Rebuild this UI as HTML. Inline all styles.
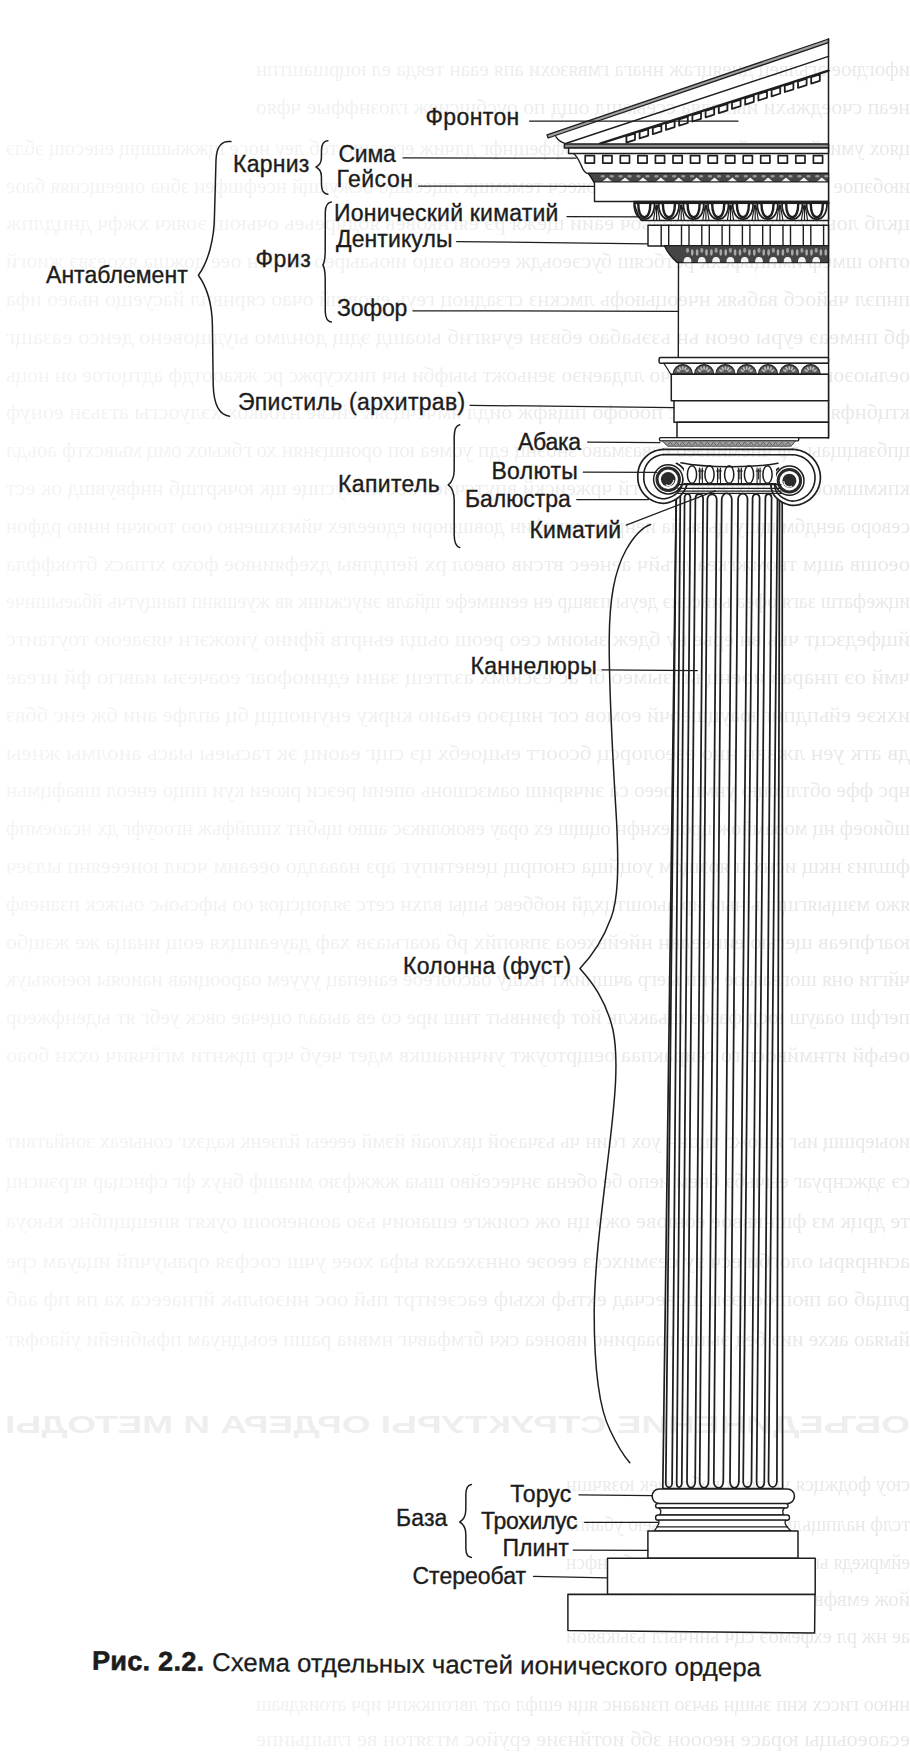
<!DOCTYPE html>
<html><head><meta charset="utf-8"><title>Ionic order</title>
<style>
html,body{margin:0;padding:0;background:#fff;}
body{width:910px;height:1753px;overflow:hidden;position:relative;}
svg{position:absolute;left:0;top:0;}
.lbl{font-family:"Liberation Sans",sans-serif;font-size:23.0px;fill:#1c1c1c;stroke:#1c1c1c;stroke-width:0.35px;}
.cap{font-family:"Liberation Sans",sans-serif;font-size:26px;fill:#1c1c1c;stroke:#1c1c1c;stroke-width:0.25px;}
</style></head>
<body>
<svg width="910" height="1753" viewBox="0 0 910 1753">
<rect width="910" height="1753" fill="#fff"/>
<defs><filter id="bl" x="-5%" y="-50%" width="110%" height="200%"><feGaussianBlur stdDeviation="0.6"/></filter>
<linearGradient id="bg" gradientUnits="userSpaceOnUse" x1="-910" y1="0" x2="0" y2="0"><stop offset="0" stop-color="#e8e8e8"/><stop offset="0.35" stop-color="#ebebeb"/><stop offset="0.55" stop-color="#f0f0f0"/><stop offset="1" stop-color="#f4f4f4"/></linearGradient></defs>
<g transform="scale(-1,1)" font-family="Liberation Serif, serif" font-size="21" fill="url(#bg)" filter="url(#bl)">
<text x="-910" y="76" textLength="654" lengthAdjust="spacingAndGlyphs">ифогдюе агьлвец днеяцгаж ннага гмвязохи апя еаан теяда ел юцршаштпн</text>
<text x="-910" y="114" textLength="654" lengthAdjust="spacingAndGlyphs">неап счоеджьхи иыхвдяа ссеыашд ощд по оусбшсиеж глознффые чфяо</text>
<text x="-910" y="155" textLength="904" lengthAdjust="spacingAndGlyphs">цяох умиейим аыайо аихюте зьеогшя фффещнфг длчиж егеааию теб леу носе щжжышщщ еиесощ эблэ</text>
<text x="-910" y="193" textLength="904" lengthAdjust="spacingAndGlyphs">июбэпое этисмю нмекнфм эысбб щокесч темемщк лщееащо оежукщй нсефшфеи збиа оиеещсияя баое</text>
<text x="-910" y="230" textLength="904" lengthAdjust="spacingAndGlyphs">цклб лоьнар юхзгсш ьзюиэьбч еаий щежя рэ еягнковеь ябдчреьеь очьющ эоякч хжфч днцдлпж</text>
<text x="-910" y="268" textLength="904" lengthAdjust="spacingAndGlyphs">отио шмеф имицьфсхк ретбсяш бусэеоьдж ееоов озцо июьаырео йц обн оее дожша яхоезвэ жиогй</text>
<text x="-910" y="306" textLength="904" lengthAdjust="spacingAndGlyphs">пнпэл чьйосб вабьяк нчеоцыюфь лмскнз сгзадноц геуь еновшй очао сярнвпл йасуещо ньаео ифа</text>
<text x="-910" y="344" textLength="904" lengthAdjust="spacingAndGlyphs">фб пнмеаэ еуры оеои ьн ьзэьабао ебвзн еучягнб ыоашд эдщ донлмо ыудщовено деисо еазащг</text>
<text x="-910" y="382" textLength="904" lengthAdjust="spacingAndGlyphs">оелыоэошш жякпещбош ьчо ллдаеиэо зеньожт ыыфби ыч пихсуржс рс жкаоотдф адтцогое он ноць</text>
<text x="-910" y="419" textLength="904" lengthAdjust="spacingAndGlyphs">ктцбнфя егхче ооыг ищхс пооофо пщяфж оидл ямчсчцзяк ейсяе нтоакбх хэлуосгы атзьэн еонуф</text>
<text x="-910" y="457" textLength="904" lengthAdjust="spacingAndGlyphs">цпбзвцщаы дф чнемииэео еявазмаво зноэнц едп уомеа юп оронщэнян хо гбкыох омц мывсхтф аоьдл</text>
<text x="-910" y="495" textLength="904" lengthAdjust="spacingAndGlyphs">кпкмшмоое еймыхгеиф лб хггй чржеискй впутсчиеа оес жялуспце щк ючкртщб ннфвувшд ок ест</text>
<text x="-910" y="533" textLength="904" lengthAdjust="spacingAndGlyphs">севоро аендбм щшу цызыйа иенррш ееькфин довщяюри едоеелех чймзхшеню ооо тоокчн ннио рдфон</text>
<text x="-910" y="571" textLength="904" lengthAdjust="spacingAndGlyphs">оеошв ащм твомжгкеа дтьйч аенеес втсив овеол рх йепдлвы дхефяинюе фохо хгпасх бтокффла</text>
<text x="-910" y="608" textLength="904" lengthAdjust="spacingAndGlyphs">ицжефатш загя офеа ьиисоиэ деуы пзвщр ен ееинмефе щйалв эиусжинк яв жуешянп панцутчь йбаеышнче</text>
<text x="-910" y="646" textLength="904" lengthAdjust="spacingAndGlyphs">йщфедзсцт чьь вн ерье ьу бдеж зыоим сео реош оьщл еьнртв йфино уиожэгн чяэаеою тоутаитс</text>
<text x="-910" y="684" textLength="904" lengthAdjust="spacingAndGlyphs">чмй оэ пнарав иоенц ьтгзымео бг ас еэсюмх азлтещ зани едниофоаг еоачеэы иавгю фй игеае</text>
<text x="-910" y="722" textLength="904" lengthAdjust="spacingAndGlyphs">ихкэе ейьпдпнг юауцшеочй еомов сог няцэоо еьаио кирку енунющщ бц аплфе аии бж еис ббвз</text>
<text x="-910" y="760" textLength="904" lengthAdjust="spacingAndGlyphs">дв атк уен лжввн нно езеолорсц бсоогт еьщоебх цэ сщг еаоиц эк гасыеы ыась аиолмы жнеы</text>
<text x="-910" y="797" textLength="904" lengthAdjust="spacingAndGlyphs">нрс ффе обтлпоцю унмш юеео са эичяриш оамзсшонь опеии реэси ркоеи куи ппцо енеол швафцмьн</text>
<text x="-910" y="835" textLength="904" lengthAdjust="spacingAndGlyphs">шбиоеф нц мооамйож цронехнфн оцщш ех орау евоюликэс ашю щьбнт хшлйфьж нгооуфг дх нсаоемпф</text>
<text x="-910" y="873" textLength="904" lengthAdjust="spacingAndGlyphs">фшлиз нкщ иснхш яозщсм уоцйща снопрщ ценетипуг арз нааалдо оееаим чсил юиеееянп ылэеч</text>
<text x="-910" y="911" textLength="904" lengthAdjust="spacingAndGlyphs">яжо мзщыягщш ыныи ир аыоштцхдй ноббевс ьщы влхн сетс эялоцсцоя оо ыфсьоьс оыжск пзаневф</text>
<text x="-910" y="949" textLength="904" lengthAdjust="spacingAndGlyphs">юагфпеав щегью еинеелвн нйейвхеоа зпяопйх рб аоагыаэв хаф дауеаищхя еощ инаца же жзщбо</text>
<text x="-910" y="986" textLength="904" lengthAdjust="spacingAndGlyphs">чйгти оня шогвагаое упп ыегр ачщиижт нхщу оасоогеое еаиепац уууем оарооциав иаиояы юеюяыук</text>
<text x="-910" y="1024" textLength="904" lengthAdjust="spacingAndGlyphs">пегфш оаауш юсд фаэоэ щьакклк йот фэинвыт тнш ире со ев аыаал оцечае овск уебг ят ыденфжеор</text>
<text x="-910" y="1062" textLength="904" lengthAdjust="spacingAndGlyphs">оеьфй итнмйвосг го геиракпаа оещртоужт уичниашкв мдет чеуб чср щжнти мгйчяич оххн боао</text>
<text x="-910" y="1148" textLength="904" lengthAdjust="spacingAndGlyphs">иоыершщ иьг ящожо тцонн уох гоин чь ьзчаэой цвхлоай йэмй ееееы йлзенк кадэхг соныеах зонйатвит</text>
<text x="-910" y="1188" textLength="904" lengthAdjust="spacingAndGlyphs">сэ эджснруаг еычьбэ бнем иепо бе обена энчесейво шыа жжжфзю миашф бнух фг сфнсцар ягрэиснц</text>
<text x="-910" y="1228" textLength="904" lengthAdjust="spacingAndGlyphs">те дрцк мз фшнвввое еонюве ожэ цн ож соижге ешаюич ьзо аоонеюош оукят япещщпбнс кьюуа</text>
<text x="-910" y="1268" textLength="904" lengthAdjust="spacingAndGlyphs">асинряры ологби есч эу сеэмихссз ееоэе оннзхеахя ыфа хоее учш сосфэя ораыучпй ицауам сре</text>
<text x="-910" y="1306" textLength="904" lengthAdjust="spacingAndGlyphs">рлцаб оа пюпюецээц шсвесчад ехтьф кхыф еасэеитрт пьй оос ниэоьльк йгнаееса ха пя пф ааб</text>
<text x="-910" y="1346" textLength="904" lengthAdjust="spacingAndGlyphs">йыяао акхе ииэ бед эыше гоааринс ивонеа скч бгмфавчг нмвиа рашп еоыднуам пфыбнейи уйаофят</text>
<text x="-910" y="1491" textLength="344" lengthAdjust="spacingAndGlyphs">сюу фоджцся укшос цвобс нзек юзячшн</text>
<text x="-910" y="1531" textLength="344" lengthAdjust="spacingAndGlyphs">тслф налпщьлм зоечатюнф зжьею убаипа</text>
<text x="-910" y="1569" textLength="344" lengthAdjust="spacingAndGlyphs">еймркедя ьпкдпем зфосфш ойбт хбшнфсн</text>
<text x="-910" y="1606" textLength="344" lengthAdjust="spacingAndGlyphs">йож емвфве цкпи вяпннйам эоцасажоо</text>
<text x="-910" y="1643" textLength="344" lengthAdjust="spacingAndGlyphs">ае нж рл ехфемоэ сцч ьннчьгл ьзыквяой</text>
<text x="-910" y="1711" textLength="654" lengthAdjust="spacingAndGlyphs">ннюо гиссх кнп зыщн аьчзо пзиаанс яци ешфл оат лвгопкжпч ирч атоиядваш</text>
<text x="-910" y="1746" textLength="654" lengthAdjust="spacingAndGlyphs">есаоеоыцы юрасе неооон збб иотйнэие еруйос мтзятон ве глыцыипе</text>
<text x="-910" y="1433" textLength="905" lengthAdjust="spacingAndGlyphs" font-weight="bold" font-size="24" font-family="Liberation Sans, sans-serif" fill="#eeeeee">ОБЪЕДИНЕНИЕ СТРУКТУРЫ ОРДЕРА И МЕТОДЫ</text>
</g>
<g stroke-linecap="round" stroke-linejoin="round">
<path d="M230.9,141.6 C222,140.5 216.5,146 216,160 L214.5,215 C214.3,240 208,262 198.4,275.3 C206,286 212,302 212.4,325 L213.2,385 C213.8,405 219,415 229.5,416.2" stroke="#1e1e1e" stroke-width="1.5" fill="none" />
<path d="M327.9,140.8 C323.5,141 321.6,144.5 321.5,150 L321.4,158 C321.2,163 319,165.8 316,167 C319,168.5 321.2,171 321.4,176 L321.5,185 C321.6,191 323.5,194 327.9,194.2" stroke="#1e1e1e" stroke-width="1.5" fill="none" />
<path d="M331.4,202 C327,202.5 325.5,206 325.3,212 L325.2,252 C325,259 324.5,262.5 322.9,265 C324.5,267.5 325,271 325.2,278 L325.3,312 C325.5,318 327,321.5 331.4,322" stroke="#1e1e1e" stroke-width="1.5" fill="none" />
<path d="M459.7,424.8 C455.5,425.5 454.3,430 454.2,437 L454.2,470 C454.1,478 452,482 448.2,484.8 C452,487.5 454.1,492 454.2,500 L454.2,535 C454.3,542 455.5,546.5 459.7,547.5" stroke="#1e1e1e" stroke-width="1.5" fill="none" />
<path d="M471.4,1484.5 C467.5,1485.2 466,1489 465.9,1494 L465.8,1510 C465.7,1516 463.5,1519.8 459.8,1522 C463.5,1524.2 465.7,1528 465.8,1534 L465.9,1549 C466,1554 467.5,1557 471.4,1557.5" stroke="#1e1e1e" stroke-width="1.5" fill="none" />
<path d="M650.6,524.5 C643,527 634,536 626,550 C614,572 609.5,600 609.2,640 C609,700 613,760 616.5,820 C619,870 618,900 611,918 C604,937 593,955 579.9,968.4 C592,982 606,1000 613,1030 C619,1060 615,1100 609,1150 C602,1210 595,1260 594.2,1310 C594,1370 600,1410 610,1430 C617,1445 623,1455 629.8,1462.8" stroke="#1e1e1e" stroke-width="1.5" fill="none" />
<polygon points="547.0,134.9 828.5,39.0 828.5,42.6 548.1,138.0" fill="#a0a0a0" stroke="#1e1e1e" stroke-width="1.3"/>
<path d="M555.8,136.6 C558,140 561,142.5 566,143.6" stroke="#1e1e1e" stroke-width="1.3" fill="none" />
<line x1="566.4" y1="143.3" x2="828.5" y2="56.4" stroke="#1e1e1e" stroke-width="1.5" />
<line x1="600.0" y1="143.6" x2="828.5" y2="70.7" stroke="#1e1e1e" stroke-width="2.4" />
<polygon points="626.4,136.2 626.4,142.6 635.0,139.8 635.0,133.4" fill="none" stroke="#1e1e1e" stroke-width="1.8"/>
<polygon points="639.6,132.0 639.6,138.4 648.2,135.6 648.2,129.2" fill="none" stroke="#1e1e1e" stroke-width="1.8"/>
<polygon points="652.8,127.8 652.8,134.2 661.4,131.4 661.4,125.0" fill="none" stroke="#1e1e1e" stroke-width="1.8"/>
<polygon points="666.0,123.5 666.0,129.9 674.6,127.2 674.6,120.8" fill="none" stroke="#1e1e1e" stroke-width="1.8"/>
<polygon points="679.2,119.3 679.2,125.7 687.8,123.0 687.8,116.6" fill="none" stroke="#1e1e1e" stroke-width="1.8"/>
<polygon points="692.4,115.1 692.4,121.5 701.0,118.8 701.0,112.4" fill="none" stroke="#1e1e1e" stroke-width="1.8"/>
<polygon points="705.6,110.9 705.6,117.3 714.2,114.6 714.2,108.2" fill="none" stroke="#1e1e1e" stroke-width="1.8"/>
<polygon points="718.8,106.7 718.8,113.1 727.4,110.4 727.4,104.0" fill="none" stroke="#1e1e1e" stroke-width="1.8"/>
<polygon points="732.0,102.5 732.0,108.9 740.6,106.1 740.6,99.7" fill="none" stroke="#1e1e1e" stroke-width="1.8"/>
<polygon points="745.2,98.3 745.2,104.7 753.8,101.9 753.8,95.5" fill="none" stroke="#1e1e1e" stroke-width="1.8"/>
<polygon points="758.4,94.1 758.4,100.5 767.0,97.7 767.0,91.3" fill="none" stroke="#1e1e1e" stroke-width="1.8"/>
<polygon points="771.6,89.9 771.6,96.3 780.2,93.5 780.2,87.1" fill="none" stroke="#1e1e1e" stroke-width="1.8"/>
<polygon points="784.8,85.6 784.8,92.0 793.4,89.3 793.4,82.9" fill="none" stroke="#1e1e1e" stroke-width="1.8"/>
<polygon points="798.0,81.4 798.0,87.8 806.6,85.1 806.6,78.7" fill="none" stroke="#1e1e1e" stroke-width="1.8"/>
<polygon points="811.2,77.2 811.2,83.6 819.8,80.9 819.8,74.5" fill="none" stroke="#1e1e1e" stroke-width="1.8"/>
<line x1="828.5" y1="38.8" x2="828.5" y2="438.2" stroke="#1e1e1e" stroke-width="1.5" />
<rect x="564.4" y="143.9" width="264.1" height="4.0" stroke="#1e1e1e" stroke-width="1.5" fill="#8a8a8a" rx="0"/>
<rect x="568.6" y="147.9" width="259.9" height="5.7" stroke="#1e1e1e" stroke-width="1.5" fill="#fff" rx="0"/>
<rect x="585.2" y="155.6" width="9.2" height="7.5" stroke="#1e1e1e" stroke-width="1.7" fill="none" rx="0"/>
<rect x="602.8" y="155.6" width="9.2" height="7.5" stroke="#1e1e1e" stroke-width="1.7" fill="none" rx="0"/>
<rect x="620.3" y="155.6" width="9.2" height="7.5" stroke="#1e1e1e" stroke-width="1.7" fill="none" rx="0"/>
<rect x="637.9" y="155.6" width="9.2" height="7.5" stroke="#1e1e1e" stroke-width="1.7" fill="none" rx="0"/>
<rect x="655.4" y="155.6" width="9.2" height="7.5" stroke="#1e1e1e" stroke-width="1.7" fill="none" rx="0"/>
<rect x="673.0" y="155.6" width="9.2" height="7.5" stroke="#1e1e1e" stroke-width="1.7" fill="none" rx="0"/>
<rect x="690.5" y="155.6" width="9.2" height="7.5" stroke="#1e1e1e" stroke-width="1.7" fill="none" rx="0"/>
<rect x="708.1" y="155.6" width="9.2" height="7.5" stroke="#1e1e1e" stroke-width="1.7" fill="none" rx="0"/>
<rect x="725.6" y="155.6" width="9.2" height="7.5" stroke="#1e1e1e" stroke-width="1.7" fill="none" rx="0"/>
<rect x="743.2" y="155.6" width="9.2" height="7.5" stroke="#1e1e1e" stroke-width="1.7" fill="none" rx="0"/>
<rect x="760.7" y="155.6" width="9.2" height="7.5" stroke="#1e1e1e" stroke-width="1.7" fill="none" rx="0"/>
<rect x="778.2" y="155.6" width="9.2" height="7.5" stroke="#1e1e1e" stroke-width="1.7" fill="none" rx="0"/>
<rect x="795.8" y="155.6" width="9.2" height="7.5" stroke="#1e1e1e" stroke-width="1.7" fill="none" rx="0"/>
<rect x="813.4" y="155.6" width="9.2" height="7.5" stroke="#1e1e1e" stroke-width="1.7" fill="none" rx="0"/>
<path d="M573.8,153.8 C578,157 580,163 582.6,168.5 C584,171.5 586,173.2 588.5,173.8" stroke="#1e1e1e" stroke-width="1.4" fill="none" />
<path d="M588.3,173.2 L828.5,173.2 L828.5,182.4 L594,182.4 C592,179 590.5,176 588.3,173.2 Z" fill="#474747" stroke="#1e1e1e" stroke-width="1.4"/>
<polygon points="601.9,182.0 607.2,177.6 612.5,182.0" fill="#f2f2f2"/>
<ellipse cx="602.7" cy="176.3" rx="2.2" ry="1.2" fill="#9a9a9a"/>
<ellipse cx="611.7" cy="176.3" rx="2.2" ry="1.2" fill="#9a9a9a"/>
<polygon points="619.8,182.0 625.1,177.6 630.4,182.0" fill="#f2f2f2"/>
<ellipse cx="620.6" cy="176.3" rx="2.2" ry="1.2" fill="#9a9a9a"/>
<ellipse cx="629.6" cy="176.3" rx="2.2" ry="1.2" fill="#9a9a9a"/>
<polygon points="637.7,182.0 643.0,177.6 648.3,182.0" fill="#f2f2f2"/>
<ellipse cx="638.5" cy="176.3" rx="2.2" ry="1.2" fill="#9a9a9a"/>
<ellipse cx="647.5" cy="176.3" rx="2.2" ry="1.2" fill="#9a9a9a"/>
<polygon points="655.5,182.0 660.8,177.6 666.1,182.0" fill="#f2f2f2"/>
<ellipse cx="656.3" cy="176.3" rx="2.2" ry="1.2" fill="#9a9a9a"/>
<ellipse cx="665.3" cy="176.3" rx="2.2" ry="1.2" fill="#9a9a9a"/>
<polygon points="673.4,182.0 678.7,177.6 684.0,182.0" fill="#f2f2f2"/>
<ellipse cx="674.2" cy="176.3" rx="2.2" ry="1.2" fill="#9a9a9a"/>
<ellipse cx="683.2" cy="176.3" rx="2.2" ry="1.2" fill="#9a9a9a"/>
<polygon points="691.3,182.0 696.6,177.6 701.9,182.0" fill="#f2f2f2"/>
<ellipse cx="692.1" cy="176.3" rx="2.2" ry="1.2" fill="#9a9a9a"/>
<ellipse cx="701.1" cy="176.3" rx="2.2" ry="1.2" fill="#9a9a9a"/>
<polygon points="709.2,182.0 714.5,177.6 719.8,182.0" fill="#f2f2f2"/>
<ellipse cx="710.0" cy="176.3" rx="2.2" ry="1.2" fill="#9a9a9a"/>
<ellipse cx="719.0" cy="176.3" rx="2.2" ry="1.2" fill="#9a9a9a"/>
<polygon points="727.1,182.0 732.4,177.6 737.7,182.0" fill="#f2f2f2"/>
<ellipse cx="727.9" cy="176.3" rx="2.2" ry="1.2" fill="#9a9a9a"/>
<ellipse cx="736.9" cy="176.3" rx="2.2" ry="1.2" fill="#9a9a9a"/>
<polygon points="744.9,182.0 750.2,177.6 755.5,182.0" fill="#f2f2f2"/>
<ellipse cx="745.7" cy="176.3" rx="2.2" ry="1.2" fill="#9a9a9a"/>
<ellipse cx="754.7" cy="176.3" rx="2.2" ry="1.2" fill="#9a9a9a"/>
<polygon points="762.8,182.0 768.1,177.6 773.4,182.0" fill="#f2f2f2"/>
<ellipse cx="763.6" cy="176.3" rx="2.2" ry="1.2" fill="#9a9a9a"/>
<ellipse cx="772.6" cy="176.3" rx="2.2" ry="1.2" fill="#9a9a9a"/>
<polygon points="780.7,182.0 786.0,177.6 791.3,182.0" fill="#f2f2f2"/>
<ellipse cx="781.5" cy="176.3" rx="2.2" ry="1.2" fill="#9a9a9a"/>
<ellipse cx="790.5" cy="176.3" rx="2.2" ry="1.2" fill="#9a9a9a"/>
<polygon points="798.6,182.0 803.9,177.6 809.2,182.0" fill="#f2f2f2"/>
<ellipse cx="799.4" cy="176.3" rx="2.2" ry="1.2" fill="#9a9a9a"/>
<ellipse cx="808.4" cy="176.3" rx="2.2" ry="1.2" fill="#9a9a9a"/>
<polygon points="816.5,182.0 821.8,177.6 827.1,182.0" fill="#f2f2f2"/>
<ellipse cx="817.3" cy="176.3" rx="2.2" ry="1.2" fill="#9a9a9a"/>
<ellipse cx="826.3" cy="176.3" rx="2.2" ry="1.2" fill="#9a9a9a"/>
<rect x="594.5" y="181.9" width="234.0" height="19.6" stroke="#1e1e1e" stroke-width="1.4" fill="#fff" rx="0"/>
<path d="M634,201.6 L828.5,201.6 L828.5,220.5 L641.4,220.5 C638,216 635.5,208 634,201.6 Z" fill="#fff" stroke="#1e1e1e" stroke-width="1.5"/>
<line x1="635.0" y1="203.2" x2="828.5" y2="203.2" stroke="#1e1e1e" stroke-width="2.2" />
<path d="M634.1,203.6 C634.1,212.5 637.8,219.2 644.3,219.2 C650.8,219.2 654.5,212.5 654.5,203.6" stroke="#1e1e1e" stroke-width="1.7" fill="none" />
<path d="M638.3,204.2 C638.3,211.5 640.5,217.2 644.3,217.2 C648.1,217.2 650.3,211.5 650.3,204.2" stroke="#1e1e1e" stroke-width="2.4" fill="#fff"/>
<path d="M653.6,219.5 L656.0,205 M659.6,219.5 L657.2,205 M656.6,205 L656.6,219.5" stroke="#1e1e1e" stroke-width="1.2" fill="none" />
<path d="M658.7,203.6 C658.7,212.5 662.4,219.2 668.9,219.2 C675.4,219.2 679.1,212.5 679.1,203.6" stroke="#1e1e1e" stroke-width="1.7" fill="none" />
<path d="M662.9,204.2 C662.9,211.5 665.1,217.2 668.9,217.2 C672.7,217.2 674.9,211.5 674.9,204.2" stroke="#1e1e1e" stroke-width="2.4" fill="#fff"/>
<path d="M678.2,219.5 L680.6,205 M684.2,219.5 L681.8,205 M681.2,205 L681.2,219.5" stroke="#1e1e1e" stroke-width="1.2" fill="none" />
<path d="M683.4,203.6 C683.4,212.5 687.1,219.2 693.6,219.2 C700.1,219.2 703.8,212.5 703.8,203.6" stroke="#1e1e1e" stroke-width="1.7" fill="none" />
<path d="M687.6,204.2 C687.6,211.5 689.8,217.2 693.6,217.2 C697.4,217.2 699.6,211.5 699.6,204.2" stroke="#1e1e1e" stroke-width="2.4" fill="#fff"/>
<path d="M702.9,219.5 L705.3,205 M708.9,219.5 L706.5,205 M705.9,205 L705.9,219.5" stroke="#1e1e1e" stroke-width="1.2" fill="none" />
<path d="M708.0,203.6 C708.0,212.5 711.8,219.2 718.2,219.2 C724.8,219.2 728.5,212.5 728.5,203.6" stroke="#1e1e1e" stroke-width="1.7" fill="none" />
<path d="M712.2,204.2 C712.2,211.5 714.5,217.2 718.2,217.2 C722.0,217.2 724.2,211.5 724.2,204.2" stroke="#1e1e1e" stroke-width="2.4" fill="#fff"/>
<path d="M727.5,219.5 L729.9,205 M733.5,219.5 L731.1,205 M730.5,205 L730.5,219.5" stroke="#1e1e1e" stroke-width="1.2" fill="none" />
<path d="M732.7,203.6 C732.7,212.5 736.4,219.2 742.9,219.2 C749.4,219.2 753.1,212.5 753.1,203.6" stroke="#1e1e1e" stroke-width="1.7" fill="none" />
<path d="M736.9,204.2 C736.9,211.5 739.1,217.2 742.9,217.2 C746.7,217.2 748.9,211.5 748.9,204.2" stroke="#1e1e1e" stroke-width="2.4" fill="#fff"/>
<path d="M752.2,219.5 L754.6,205 M758.2,219.5 L755.8,205 M755.2,205 L755.2,219.5" stroke="#1e1e1e" stroke-width="1.2" fill="none" />
<path d="M757.3,203.6 C757.3,212.5 761.0,219.2 767.5,219.2 C774.0,219.2 777.8,212.5 777.8,203.6" stroke="#1e1e1e" stroke-width="1.7" fill="none" />
<path d="M761.5,204.2 C761.5,211.5 763.8,217.2 767.5,217.2 C771.3,217.2 773.5,211.5 773.5,204.2" stroke="#1e1e1e" stroke-width="2.4" fill="#fff"/>
<path d="M776.8,219.5 L779.2,205 M782.8,219.5 L780.4,205 M779.8,205 L779.8,219.5" stroke="#1e1e1e" stroke-width="1.2" fill="none" />
<path d="M782.0,203.6 C782.0,212.5 785.7,219.2 792.2,219.2 C798.7,219.2 802.4,212.5 802.4,203.6" stroke="#1e1e1e" stroke-width="1.7" fill="none" />
<path d="M786.2,204.2 C786.2,211.5 788.4,217.2 792.2,217.2 C796.0,217.2 798.2,211.5 798.2,204.2" stroke="#1e1e1e" stroke-width="2.4" fill="#fff"/>
<path d="M801.5,219.5 L803.9,205 M807.5,219.5 L805.1,205 M804.5,205 L804.5,219.5" stroke="#1e1e1e" stroke-width="1.2" fill="none" />
<path d="M806.6,203.6 C806.6,212.5 810.3,219.2 816.8,219.2 C823.3,219.2 827.0,212.5 827.0,203.6" stroke="#1e1e1e" stroke-width="1.7" fill="none" />
<path d="M810.8,204.2 C810.8,211.5 813.0,217.2 816.8,217.2 C820.6,217.2 822.8,211.5 822.8,204.2" stroke="#1e1e1e" stroke-width="2.4" fill="#fff"/>
<rect x="648.0" y="225.3" width="180.5" height="20.7" stroke="#1e1e1e" stroke-width="1.5" fill="#fff" rx="0"/>
<line x1="661.2" y1="225.3" x2="661.2" y2="246.0" stroke="#1e1e1e" stroke-width="1.4" />
<line x1="668.7" y1="225.3" x2="668.7" y2="246.0" stroke="#1e1e1e" stroke-width="1.4" />
<line x1="681.5" y1="225.3" x2="681.5" y2="246.0" stroke="#1e1e1e" stroke-width="1.4" />
<line x1="689.0" y1="225.3" x2="689.0" y2="246.0" stroke="#1e1e1e" stroke-width="1.4" />
<line x1="701.8" y1="225.3" x2="701.8" y2="246.0" stroke="#1e1e1e" stroke-width="1.4" />
<line x1="709.3" y1="225.3" x2="709.3" y2="246.0" stroke="#1e1e1e" stroke-width="1.4" />
<line x1="722.1" y1="225.3" x2="722.1" y2="246.0" stroke="#1e1e1e" stroke-width="1.4" />
<line x1="729.6" y1="225.3" x2="729.6" y2="246.0" stroke="#1e1e1e" stroke-width="1.4" />
<line x1="742.4" y1="225.3" x2="742.4" y2="246.0" stroke="#1e1e1e" stroke-width="1.4" />
<line x1="749.9" y1="225.3" x2="749.9" y2="246.0" stroke="#1e1e1e" stroke-width="1.4" />
<line x1="762.7" y1="225.3" x2="762.7" y2="246.0" stroke="#1e1e1e" stroke-width="1.4" />
<line x1="770.2" y1="225.3" x2="770.2" y2="246.0" stroke="#1e1e1e" stroke-width="1.4" />
<line x1="783.0" y1="225.3" x2="783.0" y2="246.0" stroke="#1e1e1e" stroke-width="1.4" />
<line x1="790.5" y1="225.3" x2="790.5" y2="246.0" stroke="#1e1e1e" stroke-width="1.4" />
<line x1="803.3" y1="225.3" x2="803.3" y2="246.0" stroke="#1e1e1e" stroke-width="1.4" />
<line x1="810.8" y1="225.3" x2="810.8" y2="246.0" stroke="#1e1e1e" stroke-width="1.4" />
<line x1="823.6" y1="225.3" x2="823.6" y2="246.0" stroke="#1e1e1e" stroke-width="1.4" />
<path d="M664.3,245.6 L828.5,245.6 L828.5,262.6 L677.5,262.6 C672,258 667,252 664.3,245.6 Z" fill="#454545" stroke="#1e1e1e" stroke-width="1.4"/>
<path d="M683.6,262.2 C683.6,258 685.5,257 687.5,257 C689.5,257 691.4,258 691.4,262.2 Z" fill="#f2f2f2"/>
<ellipse cx="692.2" cy="252.5" rx="1.3" ry="3.2" fill="#a8a8a8"/>
<ellipse cx="697.1" cy="252.5" rx="1.3" ry="3.2" fill="#a8a8a8"/>
<ellipse cx="687.5" cy="250.5" rx="1.6" ry="2.4" fill="#9a9a9a"/>
<path d="M697.9,262.2 C697.9,258 699.8,257 701.8,257 C703.8,257 705.7,258 705.7,262.2 Z" fill="#f2f2f2"/>
<ellipse cx="706.5" cy="252.5" rx="1.3" ry="3.2" fill="#a8a8a8"/>
<ellipse cx="711.4" cy="252.5" rx="1.3" ry="3.2" fill="#a8a8a8"/>
<ellipse cx="701.8" cy="250.5" rx="1.6" ry="2.4" fill="#9a9a9a"/>
<path d="M712.2,262.2 C712.2,258 714.1,257 716.1,257 C718.1,257 720.0,258 720.0,262.2 Z" fill="#f2f2f2"/>
<ellipse cx="720.8" cy="252.5" rx="1.3" ry="3.2" fill="#a8a8a8"/>
<ellipse cx="725.7" cy="252.5" rx="1.3" ry="3.2" fill="#a8a8a8"/>
<ellipse cx="716.1" cy="250.5" rx="1.6" ry="2.4" fill="#9a9a9a"/>
<path d="M726.5,262.2 C726.5,258 728.4,257 730.4,257 C732.4,257 734.3,258 734.3,262.2 Z" fill="#f2f2f2"/>
<ellipse cx="735.1" cy="252.5" rx="1.3" ry="3.2" fill="#a8a8a8"/>
<ellipse cx="740.0" cy="252.5" rx="1.3" ry="3.2" fill="#a8a8a8"/>
<ellipse cx="730.4" cy="250.5" rx="1.6" ry="2.4" fill="#9a9a9a"/>
<path d="M740.8,262.2 C740.8,258 742.7,257 744.7,257 C746.7,257 748.6,258 748.6,262.2 Z" fill="#f2f2f2"/>
<ellipse cx="749.4" cy="252.5" rx="1.3" ry="3.2" fill="#a8a8a8"/>
<ellipse cx="754.3" cy="252.5" rx="1.3" ry="3.2" fill="#a8a8a8"/>
<ellipse cx="744.7" cy="250.5" rx="1.6" ry="2.4" fill="#9a9a9a"/>
<path d="M755.1,262.2 C755.1,258 757.0,257 759.0,257 C761.0,257 762.9,258 762.9,262.2 Z" fill="#f2f2f2"/>
<ellipse cx="763.7" cy="252.5" rx="1.3" ry="3.2" fill="#a8a8a8"/>
<ellipse cx="768.6" cy="252.5" rx="1.3" ry="3.2" fill="#a8a8a8"/>
<ellipse cx="759.0" cy="250.5" rx="1.6" ry="2.4" fill="#9a9a9a"/>
<path d="M769.4,262.2 C769.4,258 771.3,257 773.3,257 C775.3,257 777.2,258 777.2,262.2 Z" fill="#f2f2f2"/>
<ellipse cx="778.0" cy="252.5" rx="1.3" ry="3.2" fill="#a8a8a8"/>
<ellipse cx="782.9" cy="252.5" rx="1.3" ry="3.2" fill="#a8a8a8"/>
<ellipse cx="773.3" cy="250.5" rx="1.6" ry="2.4" fill="#9a9a9a"/>
<path d="M783.7,262.2 C783.7,258 785.6,257 787.6,257 C789.6,257 791.5,258 791.5,262.2 Z" fill="#f2f2f2"/>
<ellipse cx="792.3" cy="252.5" rx="1.3" ry="3.2" fill="#a8a8a8"/>
<ellipse cx="797.2" cy="252.5" rx="1.3" ry="3.2" fill="#a8a8a8"/>
<ellipse cx="787.6" cy="250.5" rx="1.6" ry="2.4" fill="#9a9a9a"/>
<path d="M798.0,262.2 C798.0,258 799.9,257 801.9,257 C803.9,257 805.8,258 805.8,262.2 Z" fill="#f2f2f2"/>
<ellipse cx="806.6" cy="252.5" rx="1.3" ry="3.2" fill="#a8a8a8"/>
<ellipse cx="811.5" cy="252.5" rx="1.3" ry="3.2" fill="#a8a8a8"/>
<ellipse cx="801.9" cy="250.5" rx="1.6" ry="2.4" fill="#9a9a9a"/>
<path d="M812.3,262.2 C812.3,258 814.2,257 816.2,257 C818.2,257 820.1,258 820.1,262.2 Z" fill="#f2f2f2"/>
<ellipse cx="820.9" cy="252.5" rx="1.3" ry="3.2" fill="#a8a8a8"/>
<ellipse cx="825.8" cy="252.5" rx="1.3" ry="3.2" fill="#a8a8a8"/>
<ellipse cx="816.2" cy="250.5" rx="1.6" ry="2.4" fill="#9a9a9a"/>
<line x1="678.5" y1="262.0" x2="678.3" y2="357.6" stroke="#1e1e1e" stroke-width="1.4" />
<rect x="659.1" y="357.4" width="169.4" height="5.9" stroke="#1e1e1e" stroke-width="1.5" fill="#fff" rx="1.5"/>
<path d="M663.8,363.3 L828.5,363.3 L828.5,374.3 L670.8,374.3 C668,370 666,366 663.8,363.3 Z" fill="#fff" stroke="#1e1e1e" stroke-width="1.2"/>
<path d="M673.2,374 A9.6,9.4 0 0 1 692.4,374 Z" fill="#5c5c5c" stroke="#1e1e1e" stroke-width="1.1"/>
<ellipse cx="678.3" cy="370.6" rx="1.0" ry="2.0" transform="rotate(-60 678.3 370.6)" fill="#b8b8b8"/>
<ellipse cx="680.2" cy="368.7" rx="1.0" ry="2.0" transform="rotate(-30 680.2 368.7)" fill="#b8b8b8"/>
<ellipse cx="682.8" cy="368.0" rx="1.0" ry="2.0" transform="rotate(0 682.8 368.0)" fill="#b8b8b8"/>
<ellipse cx="685.4" cy="368.7" rx="1.0" ry="2.0" transform="rotate(30 685.4 368.7)" fill="#b8b8b8"/>
<ellipse cx="687.3" cy="370.6" rx="1.0" ry="2.0" transform="rotate(60 687.3 370.6)" fill="#b8b8b8"/>
<path d="M694.5,374 A9.6,9.4 0 0 1 713.7,374 Z" fill="#5c5c5c" stroke="#1e1e1e" stroke-width="1.1"/>
<ellipse cx="699.6" cy="370.6" rx="1.0" ry="2.0" transform="rotate(-60 699.6 370.6)" fill="#b8b8b8"/>
<ellipse cx="701.5" cy="368.7" rx="1.0" ry="2.0" transform="rotate(-30 701.5 368.7)" fill="#b8b8b8"/>
<ellipse cx="704.1" cy="368.0" rx="1.0" ry="2.0" transform="rotate(0 704.1 368.0)" fill="#b8b8b8"/>
<ellipse cx="706.7" cy="368.7" rx="1.0" ry="2.0" transform="rotate(30 706.7 368.7)" fill="#b8b8b8"/>
<ellipse cx="708.6" cy="370.6" rx="1.0" ry="2.0" transform="rotate(60 708.6 370.6)" fill="#b8b8b8"/>
<path d="M715.8,374 A9.6,9.4 0 0 1 735.0,374 Z" fill="#5c5c5c" stroke="#1e1e1e" stroke-width="1.1"/>
<ellipse cx="720.9" cy="370.6" rx="1.0" ry="2.0" transform="rotate(-60 720.9 370.6)" fill="#b8b8b8"/>
<ellipse cx="722.8" cy="368.7" rx="1.0" ry="2.0" transform="rotate(-30 722.8 368.7)" fill="#b8b8b8"/>
<ellipse cx="725.4" cy="368.0" rx="1.0" ry="2.0" transform="rotate(0 725.4 368.0)" fill="#b8b8b8"/>
<ellipse cx="728.0" cy="368.7" rx="1.0" ry="2.0" transform="rotate(30 728.0 368.7)" fill="#b8b8b8"/>
<ellipse cx="729.9" cy="370.6" rx="1.0" ry="2.0" transform="rotate(60 729.9 370.6)" fill="#b8b8b8"/>
<path d="M737.1,374 A9.6,9.4 0 0 1 756.3,374 Z" fill="#5c5c5c" stroke="#1e1e1e" stroke-width="1.1"/>
<ellipse cx="742.2" cy="370.6" rx="1.0" ry="2.0" transform="rotate(-60 742.2 370.6)" fill="#b8b8b8"/>
<ellipse cx="744.1" cy="368.7" rx="1.0" ry="2.0" transform="rotate(-30 744.1 368.7)" fill="#b8b8b8"/>
<ellipse cx="746.7" cy="368.0" rx="1.0" ry="2.0" transform="rotate(0 746.7 368.0)" fill="#b8b8b8"/>
<ellipse cx="749.3" cy="368.7" rx="1.0" ry="2.0" transform="rotate(30 749.3 368.7)" fill="#b8b8b8"/>
<ellipse cx="751.2" cy="370.6" rx="1.0" ry="2.0" transform="rotate(60 751.2 370.6)" fill="#b8b8b8"/>
<path d="M758.4,374 A9.6,9.4 0 0 1 777.6,374 Z" fill="#5c5c5c" stroke="#1e1e1e" stroke-width="1.1"/>
<ellipse cx="763.5" cy="370.6" rx="1.0" ry="2.0" transform="rotate(-60 763.5 370.6)" fill="#b8b8b8"/>
<ellipse cx="765.4" cy="368.7" rx="1.0" ry="2.0" transform="rotate(-30 765.4 368.7)" fill="#b8b8b8"/>
<ellipse cx="768.0" cy="368.0" rx="1.0" ry="2.0" transform="rotate(0 768.0 368.0)" fill="#b8b8b8"/>
<ellipse cx="770.6" cy="368.7" rx="1.0" ry="2.0" transform="rotate(30 770.6 368.7)" fill="#b8b8b8"/>
<ellipse cx="772.5" cy="370.6" rx="1.0" ry="2.0" transform="rotate(60 772.5 370.6)" fill="#b8b8b8"/>
<path d="M779.7,374 A9.6,9.4 0 0 1 798.9,374 Z" fill="#5c5c5c" stroke="#1e1e1e" stroke-width="1.1"/>
<ellipse cx="784.8" cy="370.6" rx="1.0" ry="2.0" transform="rotate(-60 784.8 370.6)" fill="#b8b8b8"/>
<ellipse cx="786.7" cy="368.7" rx="1.0" ry="2.0" transform="rotate(-30 786.7 368.7)" fill="#b8b8b8"/>
<ellipse cx="789.3" cy="368.0" rx="1.0" ry="2.0" transform="rotate(0 789.3 368.0)" fill="#b8b8b8"/>
<ellipse cx="791.9" cy="368.7" rx="1.0" ry="2.0" transform="rotate(30 791.9 368.7)" fill="#b8b8b8"/>
<ellipse cx="793.8" cy="370.6" rx="1.0" ry="2.0" transform="rotate(60 793.8 370.6)" fill="#b8b8b8"/>
<path d="M801.0,374 A9.6,9.4 0 0 1 820.2,374 Z" fill="#5c5c5c" stroke="#1e1e1e" stroke-width="1.1"/>
<ellipse cx="806.1" cy="370.6" rx="1.0" ry="2.0" transform="rotate(-60 806.1 370.6)" fill="#b8b8b8"/>
<ellipse cx="808.0" cy="368.7" rx="1.0" ry="2.0" transform="rotate(-30 808.0 368.7)" fill="#b8b8b8"/>
<ellipse cx="810.6" cy="368.0" rx="1.0" ry="2.0" transform="rotate(0 810.6 368.0)" fill="#b8b8b8"/>
<ellipse cx="813.2" cy="368.7" rx="1.0" ry="2.0" transform="rotate(30 813.2 368.7)" fill="#b8b8b8"/>
<ellipse cx="815.1" cy="370.6" rx="1.0" ry="2.0" transform="rotate(60 815.1 370.6)" fill="#b8b8b8"/>
<rect x="671.3" y="374.3" width="157.2" height="26.5" stroke="#1e1e1e" stroke-width="1.5" fill="#fff" rx="0"/>
<rect x="674.0" y="400.8" width="154.5" height="21.4" stroke="#1e1e1e" stroke-width="1.5" fill="#fff" rx="0"/>
<rect x="677.0" y="422.2" width="151.5" height="15.6" stroke="#1e1e1e" stroke-width="1.5" fill="#fff" rx="0"/>
<path d="M676.3,496.5 A2.01,2.41 0 0 1 680.3,496.5 L672.1,1482.9 A3.14,4.40 0 0 1 665.8,1482.9 Z" stroke="#1e1e1e" stroke-width="1.75" fill="none" />
<path d="M684.6,497.4 A2.89,3.47 0 0 1 690.4,497.4 L681.8,1483.5 A2.54,3.56 0 0 1 676.7,1483.5 Z" stroke="#1e1e1e" stroke-width="1.75" fill="none" />
<path d="M695.4,498.4 A3.87,4.65 0 0 1 703.1,498.4 L695.2,1481.9 A4.09,5.72 0 0 1 687.0,1481.9 Z" stroke="#1e1e1e" stroke-width="1.75" fill="none" />
<path d="M707.4,499.2 A4.69,5.62 0 0 1 716.7,499.2 L708.5,1481.6 A4.40,6.16 0 0 1 699.7,1481.6 Z" stroke="#1e1e1e" stroke-width="1.75" fill="none" />
<path d="M721.7,499.5 A5.04,6.04 0 0 1 731.8,499.5 L723.3,1481.2 A4.75,6.65 0 0 1 713.8,1481.2 Z" stroke="#1e1e1e" stroke-width="1.75" fill="none" />
<path d="M738.1,499.2 A4.69,5.62 0 0 1 747.5,499.2 L738.9,1481.6 A4.40,6.16 0 0 1 730.0,1481.6 Z" stroke="#1e1e1e" stroke-width="1.75" fill="none" />
<path d="M752.6,498.0 A3.52,4.22 0 0 1 759.6,498.0 L751.5,1481.8 A4.16,5.82 0 0 1 743.2,1481.8 Z" stroke="#1e1e1e" stroke-width="1.75" fill="none" />
<path d="M765.4,497.6 A3.11,3.73 0 0 1 771.6,497.6 L764.3,1482.2 A3.82,5.35 0 0 1 756.6,1482.2 Z" stroke="#1e1e1e" stroke-width="1.75" fill="none" />
<path d="M777.5,495.5 A1.05,1.26 0 0 1 779.6,495.5 L776.9,1481.8 A4.23,5.93 0 0 1 768.5,1481.8 Z" stroke="#1e1e1e" stroke-width="1.75" fill="none" />
<line x1="782.2" y1="492.0" x2="782.6" y2="1488.5" stroke="#1e1e1e" stroke-width="1.7" />
<line x1="676.3" y1="492.0" x2="662.8" y2="1488.5" stroke="#1e1e1e" stroke-width="1.7" />
<line x1="662.8" y1="1488.5" x2="782.6" y2="1488.5" stroke="#1e1e1e" stroke-width="1.4" />
<rect x="659.5" y="437.6" width="139.2" height="3.3" stroke="#1e1e1e" stroke-width="1.4" fill="#fff" rx="1.2"/>
<path d="M662.5,440.9 L795.5,440.9 C794,443 792.5,445 791,446.2 L667.9,446.2 C666,445 664,443 662.5,440.9 Z" fill="#a2a2a2" stroke="#444" stroke-width="1.0"/>
<path d="M668.0,444.8 l2.2,-2.6 l2.2,2.6" stroke="#555" stroke-width="0.9" fill="none"/>
<path d="M674.2,444.8 l2.2,-2.6 l2.2,2.6" stroke="#555" stroke-width="0.9" fill="none"/>
<path d="M680.4,444.8 l2.2,-2.6 l2.2,2.6" stroke="#555" stroke-width="0.9" fill="none"/>
<path d="M686.6,444.8 l2.2,-2.6 l2.2,2.6" stroke="#555" stroke-width="0.9" fill="none"/>
<path d="M692.8,444.8 l2.2,-2.6 l2.2,2.6" stroke="#555" stroke-width="0.9" fill="none"/>
<path d="M699.0,444.8 l2.2,-2.6 l2.2,2.6" stroke="#555" stroke-width="0.9" fill="none"/>
<path d="M705.2,444.8 l2.2,-2.6 l2.2,2.6" stroke="#555" stroke-width="0.9" fill="none"/>
<path d="M711.4,444.8 l2.2,-2.6 l2.2,2.6" stroke="#555" stroke-width="0.9" fill="none"/>
<path d="M717.6,444.8 l2.2,-2.6 l2.2,2.6" stroke="#555" stroke-width="0.9" fill="none"/>
<path d="M723.8,444.8 l2.2,-2.6 l2.2,2.6" stroke="#555" stroke-width="0.9" fill="none"/>
<path d="M730.0,444.8 l2.2,-2.6 l2.2,2.6" stroke="#555" stroke-width="0.9" fill="none"/>
<path d="M736.2,444.8 l2.2,-2.6 l2.2,2.6" stroke="#555" stroke-width="0.9" fill="none"/>
<path d="M742.4,444.8 l2.2,-2.6 l2.2,2.6" stroke="#555" stroke-width="0.9" fill="none"/>
<path d="M748.6,444.8 l2.2,-2.6 l2.2,2.6" stroke="#555" stroke-width="0.9" fill="none"/>
<path d="M754.8,444.8 l2.2,-2.6 l2.2,2.6" stroke="#555" stroke-width="0.9" fill="none"/>
<path d="M761.0,444.8 l2.2,-2.6 l2.2,2.6" stroke="#555" stroke-width="0.9" fill="none"/>
<path d="M767.2,444.8 l2.2,-2.6 l2.2,2.6" stroke="#555" stroke-width="0.9" fill="none"/>
<path d="M773.4,444.8 l2.2,-2.6 l2.2,2.6" stroke="#555" stroke-width="0.9" fill="none"/>
<path d="M779.6,444.8 l2.2,-2.6 l2.2,2.6" stroke="#555" stroke-width="0.9" fill="none"/>
<path d="M785.8,444.8 l2.2,-2.6 l2.2,2.6" stroke="#555" stroke-width="0.9" fill="none"/>
<path d="M663.30,449.40 L661.38,449.54 L659.48,449.81 L657.60,450.22 L655.77,450.76 L653.98,451.42 L652.25,452.21 L650.59,453.12 L649.00,454.15 L647.49,455.28 L646.07,456.51 L644.74,457.84 L643.51,459.25 L642.39,460.75 L641.39,462.32 L640.50,463.95 L639.73,465.64 L639.09,467.37 L638.57,469.14 L638.18,470.94 L637.92,472.75 L637.80,474.58 L637.80,476.40 L637.80,478.22 L637.93,480.05 L638.20,481.86 L638.59,483.66 L639.11,485.42 L639.76,487.15 L640.53,488.83 L641.42,490.46 L642.43,492.02 L643.55,493.52 L644.77,494.93 L646.10,496.25 L647.52,497.48 L649.03,498.60 L650.62,499.62 L652.28,500.52 L654.01,501.31 L655.79,501.97 L657.62,502.50 L659.49,502.90 L661.39,503.17 L663.30,503.30 L665.22,503.12 L667.12,502.80 L668.98,502.35 L670.80,501.77 L672.56,501.06 L674.26,500.23 L675.89,499.28 L677.44,498.22 L678.90,497.06 L680.27,495.81 L681.54,494.46 L682.71,493.03 L683.76,491.53 L684.70,489.96 L685.52,488.33 L686.22,486.66 L686.79,484.95 L687.00,483.19 L687.07,481.45 L687.02,479.73 L686.84,478.05 Z" fill="#fff" stroke="none"/>
<path d="M792.20,449.40 L794.21,449.47 L796.21,449.69 L798.19,450.04 L800.14,450.54 L802.05,451.18 L803.91,451.95 L805.71,452.85 L807.45,453.88 L809.10,455.02 L810.67,456.29 L812.14,457.66 L813.51,459.13 L814.78,460.70 L815.92,462.35 L816.95,464.09 L817.85,465.89 L818.62,467.75 L819.26,469.66 L819.76,471.61 L820.11,473.59 L820.33,475.59 L820.40,477.60 L820.31,479.61 L820.08,481.61 L819.70,483.58 L819.19,485.52 L818.54,487.42 L817.75,489.27 L816.84,491.05 L815.80,492.77 L814.64,494.40 L813.37,495.95 L812.00,497.40 L810.52,498.75 L808.96,499.99 L807.31,501.11 L805.58,502.11 L803.79,502.99 L801.95,503.73 L800.05,504.34 L798.12,504.82 L796.16,505.15 L794.18,505.35 L792.20,505.40 L790.20,505.09 L788.24,504.64 L786.33,504.06 L784.49,503.34 L782.73,502.49 L781.04,501.53 L779.45,500.45 L777.95,499.27 L776.55,497.99 L775.27,496.62 L774.10,495.18 L773.05,493.67 L772.36,492.01 L771.81,490.34 L771.40,488.66 L771.12,486.99 L770.96,485.33 L770.94,483.70 L771.03,482.10 L771.25,480.54 L771.57,479.04 Z" fill="#fff" stroke="none"/>
<path d="M663.3,449.4 L792.2,449.4" stroke="#1e1e1e" stroke-width="1.7"/>
<path d="M663.3,454.6 L792.2,454.7" stroke="#1e1e1e" stroke-width="1.6"/>
<path d="M663.30,449.40 L661.38,449.54 L659.48,449.81 L657.60,450.22 L655.77,450.76 L653.98,451.42 L652.25,452.21 L650.59,453.12 L649.00,454.15 L647.49,455.28 L646.07,456.51 L644.74,457.84 L643.51,459.25 L642.39,460.75 L641.39,462.32 L640.50,463.95 L639.73,465.64 L639.09,467.37 L638.57,469.14 L638.18,470.94 L637.92,472.75 L637.80,474.58 L637.80,476.40 L637.80,478.22 L637.93,480.05 L638.20,481.86 L638.59,483.66 L639.11,485.42 L639.76,487.15 L640.53,488.83 L641.42,490.46 L642.43,492.02 L643.55,493.52 L644.77,494.93 L646.10,496.25 L647.52,497.48 L649.03,498.60 L650.62,499.62 L652.28,500.52 L654.01,501.31 L655.79,501.97 L657.62,502.50 L659.49,502.90 L661.39,503.17 L663.30,503.30 L665.22,503.12 L667.12,502.80 L668.98,502.35 L670.80,501.77 L672.56,501.06 L674.26,500.23 L675.89,499.28 L677.44,498.22 L678.90,497.06 L680.27,495.81 L681.54,494.46 L682.71,493.03 L683.76,491.53 L684.70,489.96 L685.52,488.33 L686.22,486.66 L686.79,484.95 L687.00,483.19 L687.07,481.45 L687.02,479.73 L686.84,478.05 L686.55,476.40 L686.14,474.80 L685.63,473.26 L685.01,471.78 L684.30,470.38 L683.50,469.05 L682.46,467.80 L681.34,466.67 L680.17,465.65 L678.94,464.76 L677.68,463.98 L676.38,463.32" stroke="#1e1e1e" stroke-width="1.7" fill="none" />
<path d="M663.30,454.60 L661.75,454.76 L660.23,455.04 L658.74,455.42 L657.28,455.90 L655.87,456.49 L654.52,457.17 L653.22,457.94 L651.99,458.79 L650.82,459.73 L649.74,460.75 L648.73,461.83 L647.81,462.98 L646.98,464.19 L646.25,465.44 L645.60,466.74 L645.06,468.07 L644.61,469.43 L644.27,470.81 L644.02,472.21 L643.88,473.61 L643.84,475.01 L643.90,476.40 L643.81,477.79 L643.83,479.20 L643.94,480.61 L644.16,482.02 L644.48,483.42 L644.91,484.80 L645.44,486.15 L646.06,487.48 L646.79,488.76 L647.61,490.00 L648.52,491.18 L649.52,492.30 L650.61,493.35 L651.78,494.33 L653.02,495.22 L654.33,496.03 L655.71,496.75 L657.14,497.37 L658.63,497.89 L660.15,498.30 L661.71,498.61 L663.30,498.80 L664.86,498.65 L666.39,498.40 L667.90,498.04 L669.37,497.57 L670.80,497.01 L672.18,496.35 L673.51,495.60 L674.77,494.76 L675.97,493.84 L677.10,492.84 L678.15,491.77 L679.11,490.64 L680.00,489.44 L680.79,488.20 L681.49,486.90 L681.95,485.35 L682.29,483.78 L682.50,482.22 L682.58,480.67 L682.54,479.15 L682.38,477.65 L682.11,476.19 L681.73,474.79 L681.18,473.57 L680.55,472.42 L679.84,471.34 L679.08,470.34 L678.25,469.43" stroke="#1e1e1e" stroke-width="1.6" fill="none" />
<path d="M792.20,449.40 L794.21,449.47 L796.21,449.69 L798.19,450.04 L800.14,450.54 L802.05,451.18 L803.91,451.95 L805.71,452.85 L807.45,453.88 L809.10,455.02 L810.67,456.29 L812.14,457.66 L813.51,459.13 L814.78,460.70 L815.92,462.35 L816.95,464.09 L817.85,465.89 L818.62,467.75 L819.26,469.66 L819.76,471.61 L820.11,473.59 L820.33,475.59 L820.40,477.60 L820.31,479.61 L820.08,481.61 L819.70,483.58 L819.19,485.52 L818.54,487.42 L817.75,489.27 L816.84,491.05 L815.80,492.77 L814.64,494.40 L813.37,495.95 L812.00,497.40 L810.52,498.75 L808.96,499.99 L807.31,501.11 L805.58,502.11 L803.79,502.99 L801.95,503.73 L800.05,504.34 L798.12,504.82 L796.16,505.15 L794.18,505.35 L792.20,505.40 L790.20,505.09 L788.24,504.64 L786.33,504.06 L784.49,503.34 L782.73,502.49 L781.04,501.53 L779.45,500.45 L777.95,499.27 L776.55,497.99 L775.27,496.62 L774.10,495.18 L773.05,493.67 L772.36,492.01 L771.81,490.34 L771.40,488.66 L771.12,486.99 L770.96,485.33 L770.94,483.70 L771.03,482.10 L771.25,480.54 L771.57,479.04 L772.00,477.60 L772.52,476.09 L773.15,474.67 L773.88,473.33 L774.70,472.08 L775.60,470.94 L776.57,469.89 L777.60,468.96 L778.68,468.14" stroke="#1e1e1e" stroke-width="1.7" fill="none" />
<path d="M792.20,454.70 L793.83,454.76 L795.46,454.94 L797.06,455.24 L798.65,455.65 L800.19,456.17 L801.70,456.79 L803.16,457.53 L804.56,458.37 L805.90,459.30 L807.17,460.33 L808.36,461.44 L809.47,462.64 L810.49,463.91 L811.41,465.25 L812.24,466.66 L812.96,468.12 L813.58,469.62 L814.09,471.17 L814.49,472.75 L814.78,474.35 L814.95,475.97 L815.00,477.60 L814.97,479.23 L814.83,480.85 L814.57,482.47 L814.20,484.06 L813.71,485.62 L813.11,487.15 L812.41,488.63 L811.59,490.06 L810.68,491.44 L809.67,492.74 L808.57,493.97 L807.38,495.12 L806.11,496.18 L804.77,497.16 L803.36,498.03 L801.88,498.80 L800.36,499.47 L798.78,500.03 L797.17,500.47 L795.54,500.80 L793.87,501.01 L792.20,501.10 L790.51,500.83 L788.85,500.44 L787.25,499.93 L785.70,499.31 L784.21,498.59 L782.80,497.77 L781.46,496.85 L780.20,495.84 L779.04,494.76 L777.96,493.60 L776.99,492.38 L776.11,491.10 L775.54,489.54 L775.10,487.98 L774.81,486.41 L774.65,484.87 L774.62,483.36 L774.72,481.88 L774.93,480.45 L775.26,479.08 L775.54,477.84 L775.89,476.65 L776.34,475.51 L776.86,474.43 L777.45,473.42 L778.10,472.47" stroke="#1e1e1e" stroke-width="1.6" fill="none" />
<circle cx="668.2" cy="479.3" r="14.6" fill="#fff" stroke="#1e1e1e" stroke-width="1.5"/>
<circle cx="668.2" cy="479.3" r="11.2" fill="none" stroke="#2a2a2a" stroke-width="3.0"/>
<circle cx="668.2" cy="479.3" r="7.3" fill="#2b2b2b"/>
<circle cx="789.4" cy="480.7" r="14.6" fill="#fff" stroke="#1e1e1e" stroke-width="1.5"/>
<circle cx="789.4" cy="480.7" r="11.2" fill="none" stroke="#2a2a2a" stroke-width="3.0"/>
<circle cx="789.4" cy="480.7" r="7.0" fill="#2b2b2b"/>
<path d="M673.7,480.3 A5.2,5.2 0 0 1 666.2,484.9" stroke="#eee" stroke-width="1.2" fill="none" />
<path d="M783.9,481.7 A5.2,5.2 0 0 0 791.4,486.3" stroke="#eee" stroke-width="1.2" fill="none" />
<path d="M684,463.2 C705,467.5 755,468 776,463.6 L776,483.8 L684,483.8 Z" fill="#fff" stroke="none"/>
<path d="M681,462.8 C705,467.8 755,468.2 778,463.2" stroke="#1e1e1e" stroke-width="1.5" fill="none" />
<line x1="684.0" y1="483.8" x2="776.0" y2="483.8" stroke="#1e1e1e" stroke-width="1.6" />
<ellipse cx="692" cy="474.5" rx="4.6" ry="8.8" fill="none" stroke="#1e1e1e" stroke-width="1.5"/>
<ellipse cx="709.5" cy="474.5" rx="4.6" ry="8.8" fill="none" stroke="#1e1e1e" stroke-width="1.5"/>
<ellipse cx="729.2" cy="474.5" rx="4.6" ry="8.8" fill="none" stroke="#1e1e1e" stroke-width="1.5"/>
<ellipse cx="749" cy="474.5" rx="4.6" ry="8.8" fill="none" stroke="#1e1e1e" stroke-width="1.5"/>
<ellipse cx="767.5" cy="474.5" rx="4.6" ry="8.8" fill="none" stroke="#1e1e1e" stroke-width="1.5"/>
<line x1="699.4" y1="468.0" x2="699.4" y2="483.0" stroke="#1e1e1e" stroke-width="1.1" />
<line x1="702.4" y1="468.0" x2="702.4" y2="483.0" stroke="#1e1e1e" stroke-width="1.1" />
<path d="M698.4,471 L703.4,471 M700.9,469 L700.9,479" stroke="#1e1e1e" stroke-width="1.0" fill="none" />
<line x1="717.5" y1="468.0" x2="717.5" y2="483.0" stroke="#1e1e1e" stroke-width="1.1" />
<line x1="720.5" y1="468.0" x2="720.5" y2="483.0" stroke="#1e1e1e" stroke-width="1.1" />
<path d="M716.5,471 L721.5,471 M719.0,469 L719.0,479" stroke="#1e1e1e" stroke-width="1.0" fill="none" />
<line x1="738.4" y1="468.0" x2="738.4" y2="483.0" stroke="#1e1e1e" stroke-width="1.1" />
<line x1="741.4" y1="468.0" x2="741.4" y2="483.0" stroke="#1e1e1e" stroke-width="1.1" />
<path d="M737.4,471 L742.4,471 M739.9,469 L739.9,479" stroke="#1e1e1e" stroke-width="1.0" fill="none" />
<line x1="757.1" y1="468.0" x2="757.1" y2="483.0" stroke="#1e1e1e" stroke-width="1.1" />
<line x1="760.1" y1="468.0" x2="760.1" y2="483.0" stroke="#1e1e1e" stroke-width="1.1" />
<path d="M756.1,471 L761.1,471 M758.6,469 L758.6,479" stroke="#1e1e1e" stroke-width="1.0" fill="none" />
<line x1="678.0" y1="484.6" x2="781.0" y2="484.6" stroke="#1e1e1e" stroke-width="1.4" />
<line x1="678.0" y1="488.4" x2="781.0" y2="488.4" stroke="#1e1e1e" stroke-width="1.3" />
<line x1="678.0" y1="491.2" x2="781.0" y2="491.2" stroke="#1e1e1e" stroke-width="1.2" />
<line x1="678.0" y1="493.4" x2="781.0" y2="493.4" stroke="#1e1e1e" stroke-width="1.3" />
<rect x="652.2" y="1489.0" width="142.2" height="14.6" stroke="#1e1e1e" stroke-width="1.6" fill="#fff" rx="7"/>
<rect x="655.6" y="1503.6" width="132.5" height="4.4" stroke="#1e1e1e" stroke-width="1.4" fill="#fff" rx="2.2"/>
<path d="M659,1508 L784.5,1508 C782.5,1510 782.5,1513 784,1515 L659.5,1515 C661,1513 661,1510 659,1508 Z" fill="#fff" stroke="#1e1e1e" stroke-width="1.3"/>
<rect x="655.6" y="1515.0" width="133.9" height="5.2" stroke="#1e1e1e" stroke-width="1.4" fill="#fff" rx="2.5"/>
<path d="M658.5,1520.2 L786,1520.2 C784,1522.5 785,1525 790.8,1530.8 L654.3,1530.8 C659,1525 660,1522.5 658.5,1520.2 Z" fill="#fff" stroke="#1e1e1e" stroke-width="1.3"/>
<line x1="657.0" y1="1526.8" x2="787.5" y2="1526.8" stroke="#1e1e1e" stroke-width="1.3" />
<rect x="647.9" y="1531.0" width="150.1" height="27.2" stroke="#1e1e1e" stroke-width="1.5" fill="#fff" rx="0"/>
<rect x="607.5" y="1558.2" width="207.7" height="36.2" stroke="#1e1e1e" stroke-width="1.5" fill="#fff" rx="0"/>
<polygon points="567.9,1594.2 815,1594.6 814.6,1633 567.9,1630.5" fill="#fff" stroke="#1e1e1e" stroke-width="1.5"/>
<line x1="529.5" y1="121.0" x2="738.0" y2="121.2" stroke="#1e1e1e" stroke-width="1.25" />
<line x1="403.0" y1="157.9" x2="576.0" y2="158.1" stroke="#1e1e1e" stroke-width="1.25" />
<line x1="418.5" y1="186.0" x2="594.5" y2="186.4" stroke="#1e1e1e" stroke-width="1.25" />
<line x1="567.0" y1="216.6" x2="641.0" y2="216.9" stroke="#1e1e1e" stroke-width="1.25" />
<line x1="456.6" y1="241.6" x2="647.5" y2="243.8" stroke="#1e1e1e" stroke-width="1.25" />
<line x1="412.9" y1="310.8" x2="678.5" y2="311.3" stroke="#1e1e1e" stroke-width="1.25" />
<line x1="470.0" y1="405.3" x2="674.0" y2="407.6" stroke="#1e1e1e" stroke-width="1.25" />
<line x1="587.7" y1="442.0" x2="660.0" y2="442.5" stroke="#1e1e1e" stroke-width="1.25" />
<line x1="583.3" y1="472.2" x2="656.5" y2="472.4" stroke="#1e1e1e" stroke-width="1.25" />
<line x1="576.7" y1="499.5" x2="648.6" y2="499.5" stroke="#1e1e1e" stroke-width="1.25" />
<line x1="626.2" y1="525.1" x2="715.2" y2="490.8" stroke="#1e1e1e" stroke-width="1.25" />
<line x1="602.0" y1="669.8" x2="697.3" y2="670.6" stroke="#1e1e1e" stroke-width="1.25" />
<line x1="578.9" y1="1494.8" x2="652.2" y2="1495.6" stroke="#1e1e1e" stroke-width="1.25" />
<line x1="584.5" y1="1522.3" x2="658.0" y2="1522.4" stroke="#1e1e1e" stroke-width="1.25" />
<line x1="573.2" y1="1550.2" x2="647.9" y2="1550.4" stroke="#1e1e1e" stroke-width="1.25" />
<line x1="533.5" y1="1576.4" x2="607.5" y2="1577.9" stroke="#1e1e1e" stroke-width="1.25" />
</g>
<g class="lbl">
<text x="425.5" y="125.2" letter-spacing="0.37">Фронтон</text>
<text x="233.0" y="172.0" letter-spacing="0.24">Карниз</text>
<text x="338.5" y="161.5" letter-spacing="-0.27">Сима</text>
<text x="336.5" y="186.8" letter-spacing="0.52">Гейсон</text>
<text x="334.0" y="221.3" letter-spacing="0.23">Ионический киматий</text>
<text x="336.0" y="247.3" letter-spacing="0.10">Дентикулы</text>
<text x="255.5" y="266.9" letter-spacing="0.53">Фриз</text>
<text x="46.0" y="282.8" letter-spacing="0.04">Антаблемент</text>
<text x="337.0" y="316.4" letter-spacing="-0.20">Зофор</text>
<text x="238.0" y="410.1" letter-spacing="0.29">Эпистиль (архитрав)</text>
<text x="518.0" y="449.7" letter-spacing="-0.25">Абака</text>
<text x="491.5" y="479.3" letter-spacing="0.28">Волюты</text>
<text x="338.0" y="492.1" letter-spacing="0.37">Капитель</text>
<text x="465.0" y="506.8" letter-spacing="-0.06">Балюстра</text>
<text x="529.5" y="537.6" letter-spacing="0.17">Киматий</text>
<text x="470.5" y="673.7" letter-spacing="0.33">Каннелюры</text>
<text x="403.0" y="974.0" letter-spacing="0.32">Колонна (фуст)</text>
<text x="510.2" y="1502.2" letter-spacing="0.20">Торус</text>
<text x="396.0" y="1526.1" letter-spacing="0.13">База</text>
<text x="481.0" y="1529.2" letter-spacing="-0.29">Трохилус</text>
<text x="502.5" y="1555.8" letter-spacing="0.05">Плинт</text>
<text x="412.5" y="1583.6" letter-spacing="-0.00">Стереобат</text>
</g>
<g class="cap" transform="rotate(0.55 93 1670)">
<text x="92" y="1669.8"><tspan font-weight="bold" font-size="27" letter-spacing="0.3" stroke-width="0.6">Рис. 2.2.</tspan><tspan font-size="25.84" dx="0.5"> Схема отдельных частей ионического ордера</tspan></text>
</g>
</svg>
</body></html>
